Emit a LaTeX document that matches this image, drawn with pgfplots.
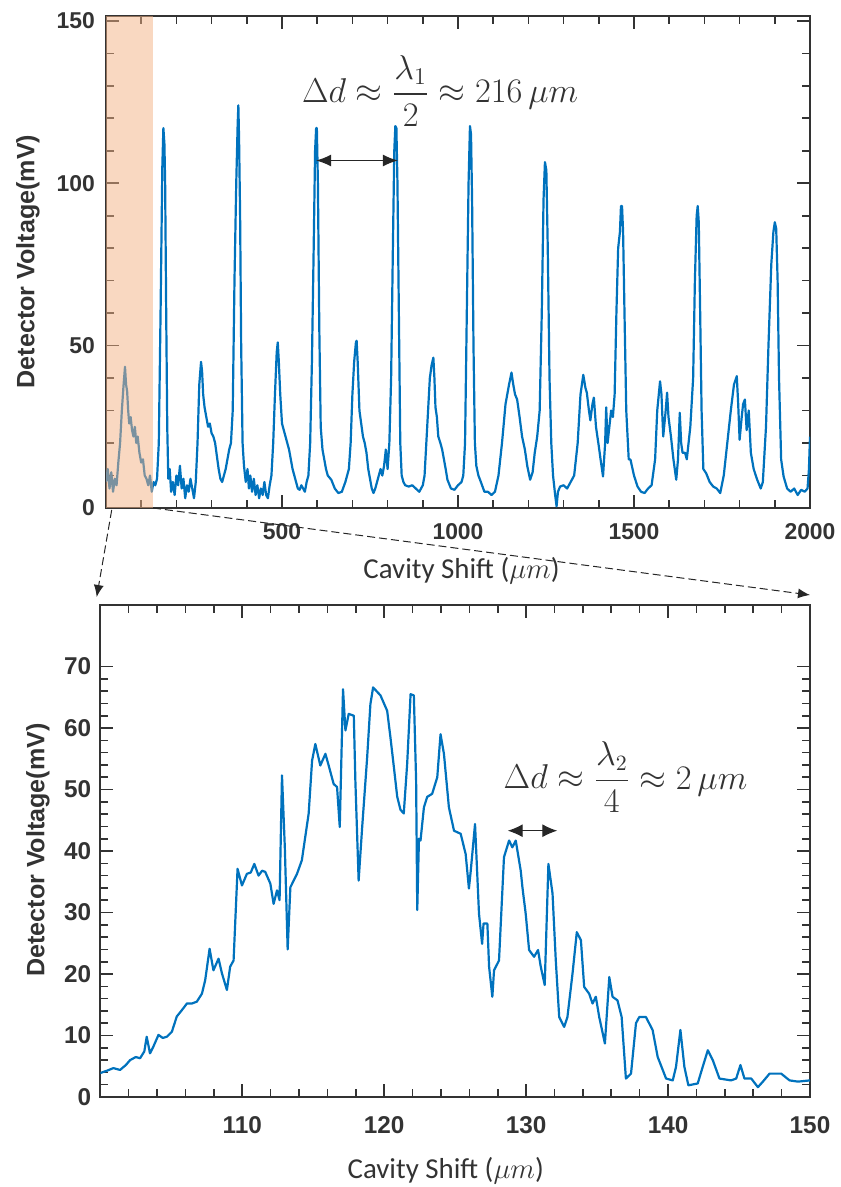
\documentclass[border=0pt]{standalone}
\usepackage{amsmath}
\usepackage{pgfplots}
\pgfplotsset{compat=1.18}
\usepackage{fontspec}
\setmainfont{Liberation Sans}
\newfontfamily\carlito{Carlito}
\usetikzlibrary{arrows.meta}
\definecolor{mblue}{HTML}{0072BD}
\definecolor{peach}{HTML}{F4B183}
\definecolor{txt}{HTML}{333333}

\pgfplotstableread{
x y
0 8
5 12
10 6
15 11
20 5
25 9
30 7
35 14
40 20
45 30
50 38
54 43.5
57 38
60 36
63 30
66 26
70 28
74 24
78 22
82 25
86 20
90 22
95 17
100 14
105 15
110 10
115 9
120 7
125 10
130 5
135 8
140 7
145 9
150 20
155 60
160 105
163 117
166 112
168 100
171 60
174 25
177 9
181 12
185 5
190 8
195 4
200 10
205 7
210 13
215 6
220 9
225 3
230 7
235 5
240 9
245 6
250 3
255 8
260 20
265 38
270 45
273 42
276 35
280 31
285 28
290 25
295 26
300 23
305 22
310 20
315 16
320 12
325 9
330 8
335 10
340 12
345 15
350 18
355 20
360 30
365 70
370 100
374 118
376 124
378 114
381 90
384 50
388 20
392 13
397 8
402 12
406 6
410 10
415 5
420 9
425 4
430 7
435 3
440 6
445 4
450 8
455 4
460 3
465 7
470 10
475 20
480 35
485 48
488 51
491 45
495 35
500 26
505 24
510 22
515 20
520 18
525 15
530 12
535 10
540 8
545 6
550 5.6
555 7
560 6
565 5
570 8
575 10
580 20
585 45
590 80
594 110
597 117
599 117
602 100
606 55
610 25
615 18
620 15
625 12
630 10
640 8.7
650 6
660 4.6
670 5
680 8
690 12
695 20
700 35
705 45
710 51
712 51.5
715 45
720 30
725 26
730 22
735 20
740 17
745 12
750 9
755 6
760 4.6
765 6
770 8
775 10
780 12
785 10
790 13
795 18
800 12
805 20
810 40
815 80
819 110
822 117.6
825 117
828 100
832 60
836 20
840 10
845 8
850 7
860 6.6
870 7
880 6
890 5
900 7
905 10
910 20
915 30
920 40
925 44
930 46.3
933 40
936 31
940 28
944 22
950 20
955 18
960 15
965 12
970 8.7
980 6
990 5.6
1000 7
1010 8
1015 10
1020 20
1025 60
1030 100
1034 117.6
1037 115
1040 95
1044 50
1048 20
1052 13
1058 10
1065 8
1075 5
1085 5
1095 4
1105 5
1115 10
1125 20
1135 32
1145 38
1152 41.7
1157 38
1162 35
1168 33.4
1175 28
1182 22
1190 18
1197 12.8
1205 8.7
1212 11
1218 17
1225 22
1232 30
1238 60
1243 95
1247 106.5
1251 104
1255 80
1260 40
1265 20
1270 10
1276 4
1280 0.5
1284 5
1290 6.6
1300 7
1310 6
1320 8
1330 10
1340 20
1348 35
1356 41
1362 37
1366 35.5
1372 30
1376 27
1382 32
1386 34
1392 25
1400 19
1405 15
1412 9.7
1418 20
1421 31
1425 20
1430 25
1435 30
1440 28
1445 35
1450 60
1455 80
1460 85
1463 93
1466 93
1469 85
1473 60
1478 30
1485 15
1490 14.9
1500 10
1510 6.6
1520 5
1530 4.6
1540 6
1550 7
1560 15
1566 30
1574 39
1578 35
1583 22
1590 30
1594 35.5
1598 28
1605 22
1612 15
1620 8.7
1625 15
1630 29.3
1634 20
1638 17
1645 17
1650 15
1660 25
1668 40
1673 70
1678 90
1681 93
1684 88
1688 60
1692 30
1697 12
1705 10.7
1715 8
1725 6.6
1735 6
1745 4.6
1755 10
1765 20
1775 30
1784 38
1792 40.6
1796 32
1800 21
1806 28
1810 32
1815 33.4
1820 24
1826 30
1832 17
1840 12
1850 8.7
1860 6
1866 8
1875 25
1882 50
1890 75
1896 85
1900 88
1904 86
1908 70
1912 40
1918 15
1925 9.7
1935 6
1945 5
1955 6
1965 4
1975 5.6
1985 5
1993 6
1997 12
2000 22
}\toptable

\pgfplotstableread{
x y
100 3.9
100.5 4.3
100.92 4.7
101.39 4.4
101.8 5.2
102.1 6.0
102.5 6.5
102.8 6.3
103.1 7.4
103.27 9.8
103.5 7.1
103.74 8.2
104.1 10.1
104.4 9.6
104.69 9.8
105.04 10.6
105.39 13.1
105.74 14.1
106.1 15.2
106.45 15.2
106.8 15.5
107.16 16.8
107.39 19.0
107.7 24.1
107.97 20.6
108.33 22.5
108.57 20.1
108.92 17.4
109.15 21.2
109.39 22.2
109.67 37.1
109.98 34.4
110.33 36.3
110.6 36.5
110.85 37.9
111.15 36.0
111.4 36.8
111.62 36.6
111.98 34.7
112.21 31.4
112.45 33.6
112.63 32.0
112.8 52.3
113.0 40.6
113.2 24.0
113.39 34.1
113.86 36.3
114.2 38.5
114.68 46.1
114.92 54.7
115.15 57.4
115.5 53.9
115.86 55.8
116.09 53.9
116.44 50.9
116.68 50.4
116.87 43.9
117.1 66.3
117.27 59.6
117.5 62.3
117.86 62.0
117.97 51.4
118.2 35.2
118.45 43.9
118.8 55.2
119.03 63.9
119.22 66.6
119.74 65.3
120.21 62.8
120.44 58.5
120.68 53.7
120.92 48.8
121.15 46.7
121.38 46.1
121.62 54.2
121.86 65.5
122.09 65.3
122.25 51.4
122.33 30.4
122.45 42.0
122.56 41.7
122.8 47.1
123.03 48.8
123.38 49.3
123.74 52.0
123.97 59.0
124.21 55.8
124.56 47.1
124.92 43.3
125.39 42.8
125.74 39.5
125.97 33.9
126.1 36.8
126.4 44.4
126.68 29.8
126.9 24.9
127.0 28.2
127.27 28.2
127.39 21.2
127.62 16.3
127.74 20.6
128.09 22.2
128.44 39.0
128.8 41.7
129.03 40.6
129.27 41.7
129.62 36.8
129.74 34.1
129.97 29.8
130.21 23.9
130.56 22.8
130.84 23.9
131.03 21.2
131.31 18.2
131.57 37.9
131.86 33.1
132.09 22.2
132.33 13.0
132.68 11.4
132.91 13.0
133.27 20.1
133.57 26.8
133.86 25.5
134.09 17.9
134.44 16.8
134.68 15.2
134.91 16.3
135.15 13.0
135.55 8.7
135.86 19.5
136.09 16.3
136.44 15.7
136.73 13.0
137.03 3.0
137.39 3.8
137.74 12.0
137.97 13.0
138.44 13.0
138.91 10.9
139.27 6.5
139.86 3.0
140.33 2.7
140.56 4.9
140.87 10.9
141.15 4.9
141.43 1.9
142.09 2.2
142.44 4.9
142.8 7.6
143.15 6.0
143.62 3.0
144.44 2.7
144.8 3.0
145.1 5.2
145.38 3.0
145.86 3.0
146.33 1.6
146.68 2.5
147.15 3.8
147.97 3.8
148.56 2.7
149.15 2.5
150 2.7
}\bottable

\pgfplotsset{
  myax/.style={
    scale only axis,
    anchor=south west,
    axis line style={txt, line width=1bp},
    tick style={txt, line width=0.8bp},
    tick align=inside,
    major tick length=6.5bp,
    minor tick length=4bp,
  }
}

\begin{document}
\begin{tikzpicture}
\useasboundingbox (0,0) rectangle (420.5bp,593.5bp);

% top panel
\begin{axis}[myax,
  at={(53bp,339.5bp)}, width=352bp, height=246bp,
  xmin=0, xmax=2000, ymin=0, ymax=151.5,
  xtick={0,500,1000,1500,2000}, xticklabels={,500,1000,1500,2000},
  minor x tick num=4,
  ytick={0,50,100,150}, yticklabels={0,50,100,150},
  minor y tick num=4,
  tick label style={font=\fontsize{11.5}{13}\selectfont\bfseries, text=txt},
  xticklabel style={yshift=-4bp},
  yticklabel style={xshift=-2bp},
]
\addplot[mblue, line width=1.1bp, line join=round] table[x=x,y=y] {\toptable};
\fill[peach, opacity=0.5] (axis cs:0,0) rectangle (axis cs:133,151.5);
\draw[{Latex[length=7.5bp,width=6bp]}-{Latex[length=7.5bp,width=6bp]}, line width=0.6bp, black!85]
  (axis cs:597,107) -- (axis cs:829,107);
\node[text=txt, font=\fontsize{16.5}{19}\selectfont] at (axis cs:949,128.5)
  {$\Delta d \approx \dfrac{\lambda_1}{2} \approx 216\,\mu m$};
\end{axis}

% bottom panel
\begin{axis}[myax,
  at={(50.15bp,45bp)}, width=354.85bp, height=246bp,
  xmin=100, xmax=150, ymin=0, ymax=80,
  xtick={100,110,120,130,140,150}, xticklabels={,110,120,130,140,150},
  minor x tick num=4,
  ytick={0,10,20,30,40,50,60,70}, yticklabels={0,10,20,30,40,50,60,70},
  minor y tick num=4,
  tick label style={font=\fontsize{12.2}{14}\selectfont\bfseries, text=txt},
  xticklabel style={yshift=-6bp},
  yticklabel style={xshift=-1bp},
]
\addplot[mblue, line width=1.1bp, line join=round] table[x=x,y=y] {\bottable};
\draw[{Latex[length=7.5bp,width=6.5bp]}-{Latex[length=7.5bp,width=6.5bp]}, line width=0.6bp, black!85]
  (axis cs:128.7,43.3) -- (axis cs:132.2,43.3);
\node[text=txt, font=\fontsize{16}{19}\selectfont] at (axis cs:137.0,52.0)
  {$\Delta d \approx \dfrac{\lambda_2}{4} \approx 2\,\mu m$};
\end{axis}

% connector arrows
\draw[-{Latex[length=6bp,width=5bp]}, line width=0.5bp, dash pattern=on 4bp off 2bp, black!85]
  (55.85bp,338.5bp) -- (48.35bp,295bp);
\draw[-{Latex[length=6bp,width=5bp]}, line width=0.5bp, dash pattern=on 4bp off 2bp, black!85]
  (76.5bp,339.5bp) -- (405bp,296bp);

% axis labels
\node[rotate=90, font=\fontsize{12.6}{14}\selectfont\bfseries, text=txt] at (14bp,462.75bp) {Detector Voltage(mV)};
\node[rotate=90, font=\fontsize{12.6}{14}\selectfont\bfseries, text=txt] at (19bp,168.5bp) {Detector Voltage(mV)};
\node[font=\carlito\fontsize{14.5}{16}\selectfont, text=txt] at (230.75bp,308bp) {Cavity Shift ($\mu m$)};
\node[font=\carlito\fontsize{14.5}{16}\selectfont, text=txt] at (222.85bp,8bp) {Cavity Shift ($\mu m$)};
\end{tikzpicture}
\end{document}
